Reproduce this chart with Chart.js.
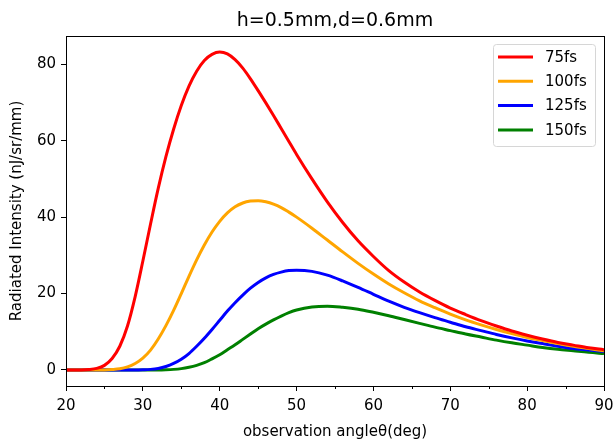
<!DOCTYPE html>
<html>
<head>
<meta charset="utf-8">
<script src="https://cdn.jsdelivr.net/npm/chart.js@4.4.0/dist/chart.umd.min.js"></script>
<style>
  html, body { margin: 0; padding: 0; background: #fff; }
</style>
</head>
<body>
<canvas id="c" width="613" height="440"></canvas>
<script>
// observation angle (deg)
const angles = [20, 21, 22, 23, 24, 25, 26, 27, 28, 29, 30, 31, 32, 33, 34, 35, 36, 37, 38, 39,
  40, 41, 42, 43, 44, 45, 46, 47, 48, 49, 50, 52, 54, 56, 58, 60, 62, 64, 66, 68,
  70, 72, 74, 76, 78, 80, 82, 84, 86, 88, 90];

// radiated intensity (nJ/sr/mm), one array per pulse duration
const fs75 = [0, 0, 0, 0.1, 0.4, 1.2, 3.0, 6.2, 11.5, 19.2, 28.5, 38.2, 47.5, 55.8, 63, 69.2, 74.3, 78.2, 81, 82.6,
  83.2, 82.7, 81.2, 79.0, 76.2, 73.1, 69.9, 66.6, 63.2, 59.8, 56.4, 50.0, 44.0, 38.6, 33.8, 29.7, 26.0, 23.0, 20.4, 18.2,
  16.2, 14.5, 12.9, 11.5, 10.2, 9.1, 8.1, 7.2, 6.5, 5.8, 5.3];
const fs100 = [0, 0, 0, 0, 0, 0, 0.1, 0.3, 0.8, 1.7, 3.1, 5.2, 8.1, 11.6, 15.6, 20.0, 24.5, 28.8, 32.7, 36.1,
  38.9, 41.1, 42.7, 43.7, 44.2, 44.3, 44.0, 43.4, 42.5, 41.3, 40.0, 37.1, 34.0, 30.9, 27.9, 25.1, 22.5, 20.2, 18.1, 16.3,
  14.6, 13.1, 11.8, 10.6, 9.5, 8.5, 7.7, 6.9, 6.2, 5.6, 5.0];
const fs125 = [0, 0, 0, 0, 0, 0, 0, 0, 0, 0, 0.05, 0.15, 0.4, 0.9, 1.7, 2.8, 4.3, 6.2, 8.3, 10.6,
  13, 15.4, 17.6, 19.6, 21.4, 22.9, 24.1, 25, 25.6, 26, 26.1, 25.8, 24.8, 23.3, 21.6, 19.8, 18, 16.4, 15, 13.7,
  12.5, 11.3, 10.3, 9.3, 8.4, 7.6, 6.9, 6.2, 5.6, 5.2, 4.8];
const fs150 = [0, 0, 0, 0, 0, 0, 0, 0, 0, 0, 0, 0, 0, 0.05, 0.15, 0.35, 0.7, 1.2, 1.9, 2.9,
  4, 5.3, 6.6, 8, 9.4, 10.8, 12, 13.1, 14.1, 15, 15.7, 16.5, 16.7, 16.4, 15.9, 15.1, 14.2, 13.2, 12.2, 11.2,
  10.3, 9.4, 8.6, 7.8, 7.1, 6.5, 5.9, 5.4, 5.0, 4.6, 4.3];

const labels = ['75fs', '100fs', '125fs', '150fs'];
const colors = ['#ff0000', '#ffa500', '#0000ff', '#008000'];
const series = [fs75, fs100, fs125, fs150];
const titleText = 'h=0.5mm,d=0.6mm';

const FONT = 'DejaVu Sans';
Chart.defaults.font.family = FONT;
Chart.defaults.color = '#000';

// box round the plot area, minor ticks on x, title centred over the axes
const frame = {
  id: 'frame',
  afterDatasetsDraw(chart) {
    const { ctx, chartArea: a, scales: { x } } = chart;
    ctx.save();
    ctx.strokeStyle = '#000';
    ctx.lineWidth = 1;
    ctx.strokeRect(Math.round(a.left) + 0.5, Math.round(a.top) + 0.5,
      Math.round(a.right - a.left), Math.round(a.bottom - a.top));
    ctx.beginPath();
    for (let v = 25; v < 90; v += 10) {
      const px = Math.round(x.getPixelForValue(v)) + 0.5;
      ctx.moveTo(px, a.bottom);
      ctx.lineTo(px, a.bottom + 3);
    }
    ctx.stroke();
    ctx.font = '19px ' + FONT;
    ctx.fillStyle = '#000';
    ctx.textAlign = 'center';
    ctx.textBaseline = 'alphabetic';
    ctx.fillText(titleText, (a.left + a.right) / 2, 25.5);
    ctx.restore();
  }
};

// matplotlib-like legend box in the upper right corner
const boxLegend = {
  id: 'boxLegend',
  afterDraw(chart) {
    const { ctx, chartArea: a } = chart;
    const w = 102, h = 102;
    const x0 = Math.round(a.right) - 9 - w, y0 = Math.round(a.top) + 8;
    ctx.save();
    ctx.fillStyle = 'rgba(255,255,255,0.8)';
    ctx.strokeStyle = '#d6d6d6';
    ctx.lineWidth = 1;
    ctx.beginPath();
    ctx.roundRect(x0 + 0.5, y0 + 0.5, w, h, 3);
    ctx.fill();
    ctx.stroke();
    ctx.font = '15px ' + FONT;
    ctx.textBaseline = 'middle';
    chart.data.datasets.forEach((ds, i) => {
      const y = y0 + 13 + i * 24.3;
      ctx.strokeStyle = ds.borderColor;
      ctx.lineWidth = 3;
      ctx.beginPath();
      ctx.moveTo(x0 + 5, y);
      ctx.lineTo(x0 + 40, y);
      ctx.stroke();
      ctx.fillStyle = '#000';
      ctx.fillText(ds.label, x0 + 52, y + 1);
    });
    ctx.restore();
  }
};

new Chart(document.getElementById('c'), {
  type: 'line',
  data: {
    labels: angles,
    datasets: series.map((s, i) => ({
      label: labels[i],
      data: s.map((v, j) => ({ x: angles[j], y: v })),
      borderColor: colors[i],
      backgroundColor: colors[i],
      borderWidth: 3,
      pointRadius: 0,
      cubicInterpolationMode: 'monotone',
    })),
  },
  options: {
    responsive: false,
    animation: false,
    layout: { padding: { left: 0, right: 9, top: 36, bottom: 0 } },
    plugins: {
      legend: { display: false },
      tooltip: { enabled: false },
      title: { display: false },
    },
    scales: {
      x: {
        type: 'linear',
        min: 20,
        max: 90,
        ticks: { stepSize: 10, font: { size: 15 }, padding: 6 },
        grid: { drawOnChartArea: false, tickLength: 5, color: '#000' },
        border: { display: true, color: '#000' },
        title: { display: true, text: 'observation angleθ(deg)', font: { size: 15 }, padding: { top: 0, bottom: -1 } },
        afterFit(scale) {
          scale.height = 54;
          scale.paddingLeft = 0;
          scale.paddingRight = 0;
        },
      },
      y: {
        min: -4.2,
        max: 87.4,
        ticks: { stepSize: 20, includeBounds: false, font: { size: 15 }, padding: 5 },
        grid: { drawOnChartArea: false, tickLength: 5, color: '#000' },
        border: { display: true, color: '#000' },
        title: { display: true, text: 'Radiated Intensity (nJ/sr/mm)', font: { size: 15 }, padding: { top: 8, bottom: 0 } },
        afterFit(scale) { scale.width = 66; },
      },
    },
  },
  plugins: [frame, boxLegend],
});
</script>
</body>
</html>
